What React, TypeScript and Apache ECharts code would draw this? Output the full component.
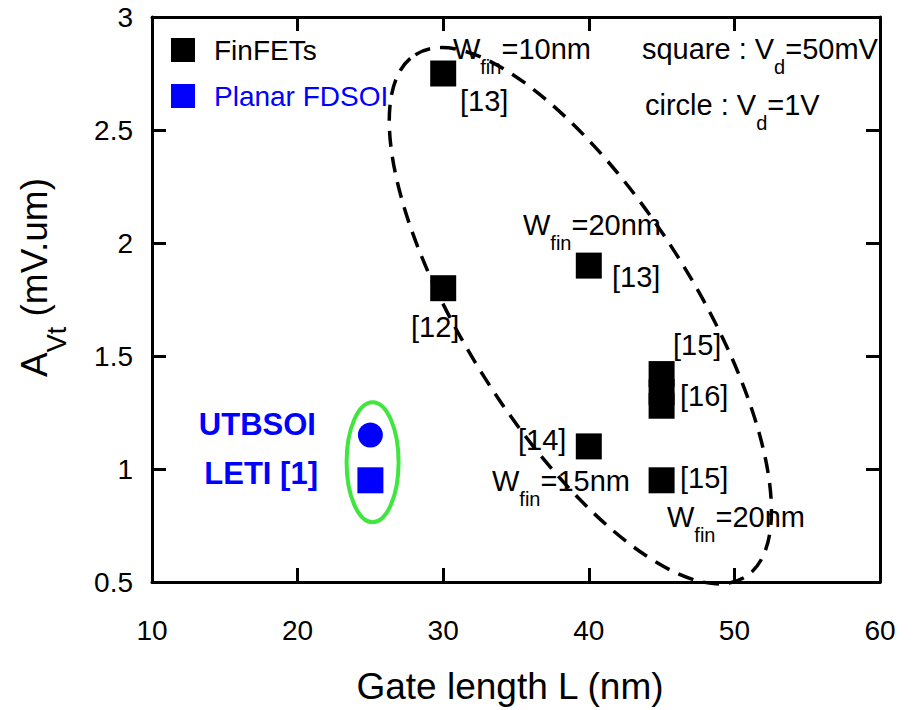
import React, { useEffect, useRef } from 'react';
import * as echarts from 'echarts';

const FONT = "'Liberation Sans', Arial, Helvetica, sans-serif";

// Axis ranges / ticks
const xMin = 10, xMax = 60, xStep = 10;
const yMin = 0.5, yMax = 3, yStep = 0.5;

// FinFET data (gate length nm, A_Vt mV.um), square : Vd = 50 mV
const finfetL = [30, 30, 40, 40, 45, 45, 45, 45];
const finfetA = [2.75, 1.8, 1.9, 1.1, 1.42, 1.34, 1.28, 0.95];

// Planar FDSOI (UTBSOI LETI [1])
const fdsoiSquareL = [25];
const fdsoiSquareA = [0.95];
const fdsoiCircleL = [25];
const fdsoiCircleA = [1.15];

// Annotations (text, anchored at data coordinates)
const annoText = [
  '{m|W}{s|fin}{m|=10nm}',
  '[13]',
  '{m|W}{s|fin}{m|=20nm}',
  '[13]',
  '[12]',
  '[15]',
  '[16]',
  '[14]',
  '{m|W}{s|fin}{m|=15nm}',
  '[15]',
  '{m|W}{s|fin}{m|=20nm}',
  '{m|square : V}{s|d}{m|=50mV}',
  '{m|circle : V}{s|d}{m|=1V}',
];
const annoL = [30.67, 31.15, 35.48, 41.59, 27.79, 45.78, 46.26, 35.14, 33.35, 46.26, 45.37, 43.65, 43.86];
const annoA = [2.858, 2.628, 2.08, 1.85, 1.628, 1.549, 1.323, 1.128, 0.947, 0.96, 0.788, 2.858, 2.611];

const boldText = ['UTBSOI', 'LETI [1]'];
const boldL = [21.26, 21.4];
const boldA = [1.195, 0.978];

// Ellipse outlines (center in data coordinates)
const dashedEllipseCenter = [39.42, 1.678];
const greenEllipseCenter = [25.15, 1.03];

export default function App() {
  const ref = useRef<HTMLDivElement>(null);

  useEffect(() => {
    if (!ref.current) return;
    const chart = echarts.init(ref.current, undefined, { renderer: 'svg' });

    const axisLine = { show: true, onZero: false, lineStyle: { color: '#000', width: 3 } };
    const axisTick = { show: true, inside: true, length: 14, lineStyle: { color: '#000', width: 3 } };

    const ellipseSeries = (center: number[], rx: number, ry: number, rot: number, stroke: string, lw: number, dash: number[] | null) => ({
      type: 'custom',
      silent: true,
      z: 1,
      data: [center],
      renderItem: (_p: any, api: any) => {
        const c = api.coord([api.value(0), api.value(1)]);
        return {
          type: 'ellipse',
          x: c[0],
          y: c[1],
          rotation: rot,
          shape: { cx: 0, cy: 0, rx, ry },
          style: { fill: 'none', stroke, lineWidth: lw, lineDash: dash || undefined },
        };
      },
    });

    const option: any = {
      animation: false,
      backgroundColor: '#fff',
      grid: { left: 152, right: 35, top: 17, bottom: 128, containLabel: false },
      legend: {
        orient: 'vertical',
        left: 166,
        top: 31,
        itemWidth: 24,
        itemHeight: 24,
        itemGap: 18,
        icon: 'rect',
        selectedMode: false,
        itemStyle: { opacity: 1 },
        textStyle: { fontSize: 28, fontFamily: FONT, padding: [0, 0, 0, 14] },
        data: [
          { name: 'FinFETs', textStyle: { color: '#000' } },
          { name: 'Planar FDSOI', textStyle: { color: '#0000ff' } },
        ],
      },
      xAxis: [
        {
          type: 'value', min: xMin, max: xMax, interval: xStep, position: 'bottom',
          axisLine, axisTick,
          axisLabel: { fontSize: 28, color: '#000', fontFamily: FONT, margin: 34 },
          splitLine: { show: false },
          name: 'Gate length L (nm)', nameLocation: 'middle', nameGap: 86,
          nameTextStyle: { fontSize: 37, color: '#000', fontFamily: FONT, padding: [0, 12, 0, 0] },
        },
        {
          type: 'value', min: xMin, max: xMax, interval: xStep, position: 'top',
          axisLine, axisTick, axisLabel: { show: false }, splitLine: { show: false },
        },
      ],
      yAxis: [
        {
          type: 'value', min: yMin, max: yMax, interval: yStep, position: 'left',
          axisLine, axisTick,
          axisLabel: { fontSize: 28, color: '#000', fontFamily: FONT, margin: 19 },
          splitLine: { show: false },
          name: '{a|A}{s|Vt}{a| (mV.um)}', nameLocation: 'middle', nameGap: 82, nameRotate: 90,
          nameTextStyle: {
            color: '#000', fontFamily: FONT, fontSize: 37, padding: [0, 0, 0, 44],
            rich: {
              a: { fontSize: 37, lineHeight: 72, fontFamily: FONT, color: '#000' },
              s: { fontSize: 27, lineHeight: 27, verticalAlign: 'bottom', fontFamily: FONT, color: '#000' },
            },
          },
        },
        {
          type: 'value', min: yMin, max: yMax, interval: yStep, position: 'right',
          axisLine, axisTick, axisLabel: { show: false }, splitLine: { show: false },
        },
      ],
      series: [
        ellipseSeries(dashedEllipseCenter, 309, 114, -57.7 * Math.PI / 180, '#000', 3.5, [16, 10]),
        ellipseSeries(greenEllipseCenter, 26, 60, 0, '#3ee63e', 4, null),
        {
          name: 'FinFETs', type: 'scatter', symbol: 'rect', symbolSize: 26,
          itemStyle: { color: '#000', opacity: 1 }, z: 3,
          data: finfetL.map((l, i) => [l, finfetA[i]]),
        },
        {
          name: 'Planar FDSOI', type: 'scatter', symbol: 'rect', symbolSize: 26,
          itemStyle: { color: '#0000ff', opacity: 1 }, z: 3,
          data: [
            ...fdsoiSquareL.map((l, i) => ({ value: [l, fdsoiSquareA[i]], symbol: 'rect' })),
            ...fdsoiCircleL.map((l, i) => ({ value: [l, fdsoiCircleA[i]], symbol: 'circle', symbolSize: 25 })),
          ],
        },
        {
          name: 'annotations', type: 'scatter', symbolSize: 0, silent: true, z: 4,
          itemStyle: { opacity: 1 },
          label: {
            show: true, position: 'right', distance: 0, color: '#000', fontSize: 29, fontFamily: FONT,
            opacity: 1,
            formatter: (p: any) => annoText[p.dataIndex],
            rich: {
              m: { fontSize: 29, lineHeight: 56, fontFamily: FONT, color: '#000' },
              s: { fontSize: 20, lineHeight: 20, verticalAlign: 'bottom', fontFamily: FONT, color: '#000' },
            },
          },
          data: annoL.map((l, i) => [l, annoA[i]]),
        },
        {
          name: 'labels', type: 'scatter', symbolSize: 0, silent: true, z: 4,
          itemStyle: { opacity: 1 },
          label: {
            show: true, position: 'left', distance: 0, color: '#0000ff', fontSize: 31,
            fontWeight: 'bold', fontFamily: FONT, opacity: 1,
            formatter: (p: any) => boldText[p.dataIndex],
          },
          data: boldL.map((l, i) => [l, boldA[i]]),
        },
      ],
    };

    chart.setOption(option);
    return () => chart.dispose();
  }, []);

  return <div ref={ref} style={{ position: 'absolute', left: 0, top: 0, width: 915, height: 710 }} />;
}
